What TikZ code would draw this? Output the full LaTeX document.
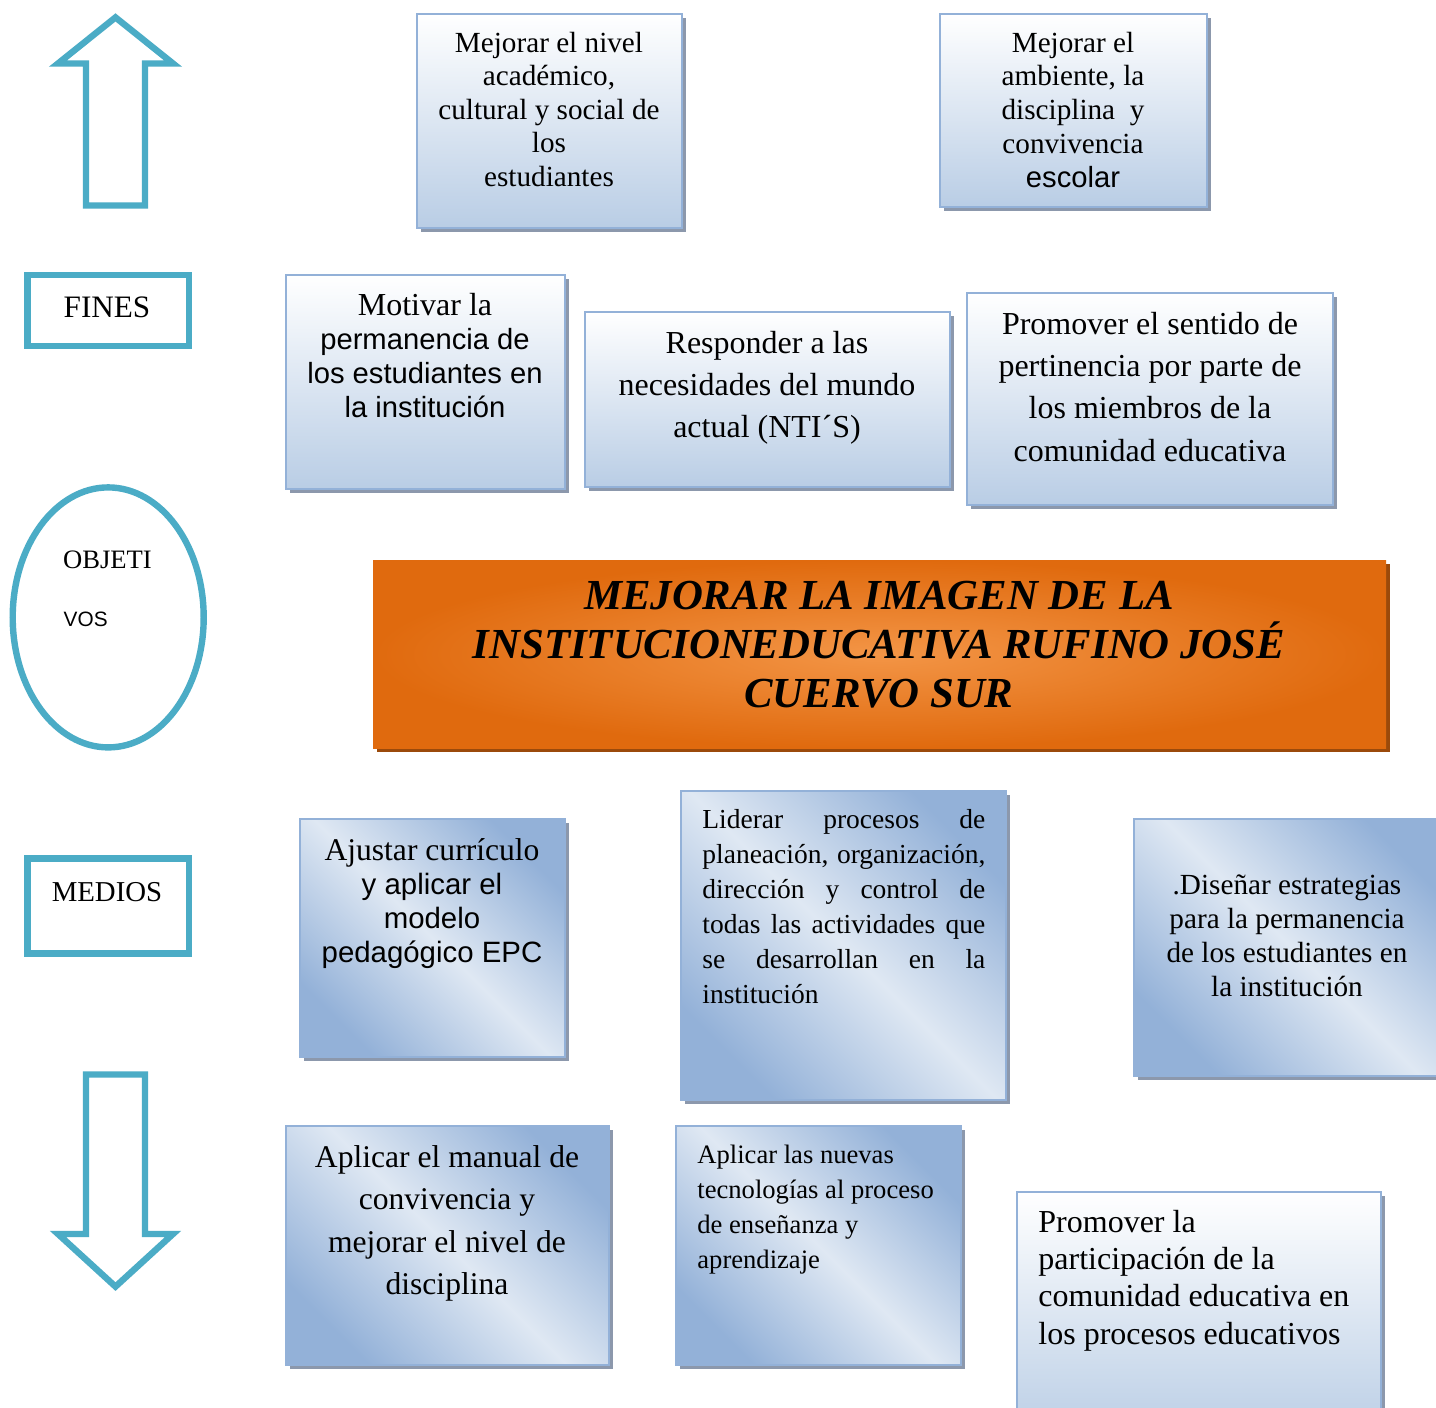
\documentclass[tikz,border=0pt]{standalone}
\usepackage{fontspec}
\setmainfont{Liberation Serif}
\newfontfamily\arialf{Liberation Sans}
\usetikzlibrary{shadows,fit,shapes.geometric}
\definecolor{teal1}{HTML}{4BACC6}
\definecolor{bbord}{HTML}{93B1D8}
\definecolor{bshad}{HTML}{8C98AC}
\definecolor{bbot}{HTML}{B9CDE5}
\definecolor{bdark}{HTML}{93B1D8}
\definecolor{blight}{HTML}{DFE8F3}
\definecolor{oedge}{HTML}{E06A0E}
\definecolor{ocent}{HTML}{F39546}
\definecolor{oshad}{HTML}{9B4A0B}
\newcommand\txtc[3]{\vtop{\hsize=500pt\parindent=0pt\lineskiplimit=-100pt\fontsize{#1}{#2}\selectfont\centering #3\par}}
\newcommand\txtl[3]{\vtop{\hsize=500pt\parindent=0pt\lineskiplimit=-100pt\fontsize{#1}{#2}\selectfont\raggedright #3\par}}
\tikzset{
  boxbase/.style={rectangle, draw=bbord, line width=1pt, inner sep=0pt,
    drop shadow={shadow xshift=2pt, shadow yshift=-2pt, opacity=1, fill=bshad}},
  vbox/.style={boxbase, top color=white, bottom color=bbot},
  dbox/.style={boxbase, top color=bdark, bottom color=bdark, middle color=blight, shading angle=-45},
  tealline/.style={draw=teal1, line width=3.2pt, miter limit=10},
  txt/.style={inner sep=0pt, anchor=base},
  txtw/.style={inner sep=0pt, anchor=base west},
}
\begin{document}
\begin{tikzpicture}[x=0.5pt,y=-0.5pt]
\useasboundingbox (0,0) rectangle (1436,1408);
\fill[white] (0,0) rectangle (1436,1408);

% left column
\draw[tealline, fill=white] (115.5,17.4) -- (173,63.5) -- (145,63.5) -- (145,205.5) -- (86,205.5) -- (86,63.5) -- (58,63.5) -- cycle;
\node[tealline, rectangle, minimum width=80.85pt, minimum height=35.5pt, inner sep=0pt] (fines) at (108.2,310.2) {};
\node[txt] (finest) at (107,317) {\fontsize{15.6}{18}\selectfont FINES};
\node[tealline, ellipse, minimum width=95.5pt, minimum height=130pt, inner sep=0pt] (obj) at (108.2,617.4) {};
\node[txtw] (objt1) at (62.7,568.3) {\fontsize{13.3}{16}\selectfont OBJETI};
\node[txtw] (objt2) at (63.3,626) {\fontsize{10.4}{12}\selectfont\arialf VOS};
\node[tealline, rectangle, minimum width=80.85pt, minimum height=47.4pt, inner sep=0pt] (medios) at (108.2,905.9) {};
\node[txt] (mediost) at (107,901) {\fontsize{14.4}{17}\selectfont MEDIOS};
\draw[tealline, fill=white] (86,1074.5) -- (145,1074.5) -- (145,1234) -- (173,1234) -- (115.5,1286.6) -- (58,1234) -- (86,1234) -- cycle;

% fines
\node[vbox, fit={(417,14) (682,228)}] (A) {};
\node[txt] (At) at (549,52.5) {\txtc{14.6}{16.75}{Mejorar el nivel\\académico,\\cultural y social de\\los\\estudiantes}};
\node[vbox, fit={(940,14) (1207,207)}] (B) {};
\node[txt] (Bt) at (1073,52) {\txtc{14.6}{17}{Mejorar el\\ambiente, la\\disciplina\ \ y\\convivencia\\{\arialf escolar}}};

\node[vbox, fit={(286,275) (565,489)}] (C) {};
\node[txt] (Ct) at (425,315) {\txtc{14.6}{17}{{\fontsize{16}{17}\selectfont Motivar la}\\{\arialf permanencia de}\\{\arialf los estudiantes en}\\{\arialf la institución}}};
\node[vbox, fit={(585,312) (950,487)}] (D) {};
\node[txt] (Dt) at (767,353.5) {\txtc{16}{21}{Responder a las\\necesidades del mundo\\actual (NTI´S)}};
\node[vbox, fit={(967,293) (1333,505)}] (E) {};
\node[txt] (Et) at (1150,334.5) {\txtc{16}{21.1}{Promover el sentido de\\pertinencia por parte de\\los miembros de la\\comunidad educativa}};

% objetivo central
\node[fit={(373,560) (1386,748)}, rectangle, inner sep=0pt, inner color=ocent, outer color=oedge,
  drop shadow={shadow xshift=2pt, shadow yshift=-2pt, opacity=1, fill=oshad}] (O) {};
\node[txt] (Ot) at (879,609) {\txtc{21.4}{24.5}{\bfseries\itshape MEJORAR LA IMAGEN DE LA\\INSTITUCIONEDUCATIVA RUFINO JOSÉ\\CUERVO SUR}};

% medios
\node[dbox, fit={(300,819) (565,1057)}] (F) {};
\node[txt] (Ft) at (432,860.5) {\txtc{14.7}{17}{{\fontsize{15.8}{17}\selectfont Ajustar currículo}\\{\arialf y aplicar el}\\{\arialf modelo}\\{\arialf pedagógico EPC}}};
\node[dbox, fit={(681,791) (1006,1100)}] (G) {};
\node[txtw] (Gt) at (702,828) {\txtl{13.75}{17.5}{\makebox[141.5pt][s]{Liderar procesos de}\\\makebox[141.5pt][s]{planeación, organización,}\\\makebox[141.5pt][s]{dirección y control de}\\\makebox[141.5pt][s]{todas las actividades que}\\\makebox[141.5pt][s]{se desarrollan en la}\\institución}};
\node[dbox, fit={(1134,819) (1450,1076)}] (H) {};
\node[txt] (Ht) at (1287,894) {\txtc{14.6}{17}{.Diseñar estrategias\\para la permanencia\\de los estudiantes en\\la institución}};

\node[dbox, fit={(286,1126) (609,1365)}] (I) {};
\node[txt] (It) at (447,1167.5) {\txtc{15.8}{21.15}{Aplicar el manual de\\convivencia y\\mejorar el nivel de\\disciplina}};
\node[dbox, fit={(676,1126) (961,1365)}] (J) {};
\node[txtw] (Jt) at (697,1163) {\txtl{13.3}{17.6}{Aplicar las nuevas\\tecnologías al proceso\\de enseñanza y\\aprendizaje}};
\node[vbox, fit={(1017,1192) (1381,1440)}] (K) {};
\node[txtw] (Kt) at (1038,1232.5) {\txtl{16}{18.6}{Promover la\\participación de la\\comunidad educativa en\\los procesos educativos}};
\end{tikzpicture}
\end{document}
